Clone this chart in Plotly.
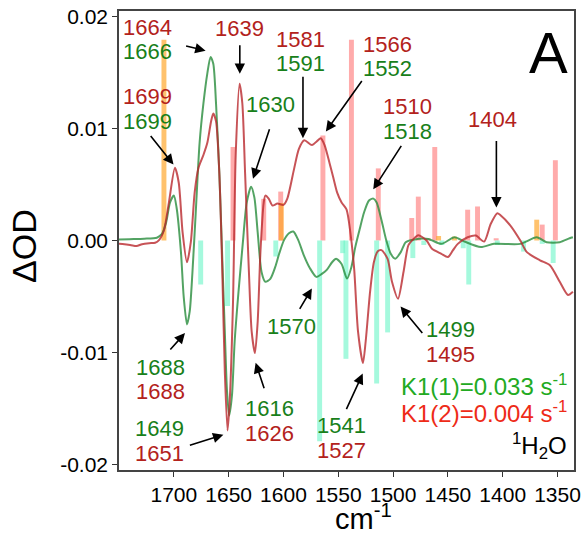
import plotly.graph_objects as go

# ---- difference spectra (wavenumber in cm-1, ΔOD) ----
red_wn = [1750, 1745, 1739, 1734, 1729, 1722.5, 1717, 1713.5, 1709, 1704.5, 1699, 1695.5, 1692, 1688,
          1684.5, 1681, 1677.5, 1673, 1669.5, 1666, 1664, 1661.5, 1658.5, 1656, 1653.5, 1651, 1649,
          1646, 1643.5, 1640, 1637.5, 1635, 1631.5, 1629, 1626, 1623.5, 1621, 1618, 1616.5, 1613.5,
          1610, 1605.5, 1600, 1596.5, 1590.5, 1586, 1581, 1574, 1569.5, 1566, 1562.5, 1558, 1554.5,
          1551, 1547, 1542.5, 1539, 1535.5, 1532, 1527.5, 1525, 1521, 1517.5, 1514, 1510.5, 1505,
          1501, 1495.5, 1490.5, 1486, 1481.5, 1477, 1469.5, 1464.5, 1456, 1450, 1445.5, 1441, 1432,
          1424.5, 1417, 1411, 1405, 1402, 1393, 1384, 1378, 1366, 1357, 1348, 1340.5, 1336]
red_dod = [-0.00028, -0.00033, -0.00042, -0.00050, -0.00033, -0.00024, -0.00020, 0.00003, 0.00091,
           0.00339, 0.00649, 0.00516, 0.00073, -0.00195, -0.00015, 0.00427, 0.00649, 0.00764, 0.00870,
           0.01065, 0.01135, 0.01065, 0.00604, -0.00192, -0.01166, -0.01697, -0.01431, -0.00546,
           0.00781, 0.01400, 0.01224, 0.00604, -0.00281, -0.00812, -0.01006, -0.00723, -0.00104,
           0.00339, 0.00401, 0.00374, 0.00312, 0.00330, 0.00318, 0.00374, 0.00631, 0.00817, 0.00896,
           0.00852, 0.00887, 0.00914, 0.00852, 0.00693, 0.00560, 0.00427, 0.00339, 0.00277, 0.00073,
           -0.00254, -0.00812, -0.01095, -0.00900, -0.00458, -0.00192, -0.00095, -0.00086, -0.00165,
           -0.00369, -0.00520, -0.00281, -0.00042, 0.00012, 0.00047, 0.00000, -0.00074, -0.00119,
           -0.00148, -0.00089, -0.00030, 0.00029, 0.00044, -0.00010, 0.00147, 0.00244, 0.00225,
           0.00133, 0.00000, -0.00104, -0.00177, -0.00221, -0.00369, -0.00487, -0.00458]

green_wn = [1750, 1740.5, 1727, 1715.5, 1711, 1707, 1703.5, 1700, 1697.5, 1693.5, 1691, 1688, 1685.5,
            1683, 1680, 1676.5, 1673, 1669.5, 1666.5, 1664, 1661.5, 1658.5, 1656, 1653.5, 1651.5,
            1649.5, 1647, 1644.5, 1641, 1637, 1633.5, 1629.5, 1626.5, 1623.5, 1620, 1616.5, 1612,
            1607.5, 1604, 1599.5, 1595, 1591, 1586.5, 1581.5, 1576, 1570, 1565, 1560.5, 1555.5, 1552,
            1547, 1542, 1538, 1534.5, 1530.5, 1526.5, 1522, 1518, 1515, 1510.5, 1506.5, 1502, 1498,
            1493, 1488.5, 1481.5, 1468, 1456, 1444, 1435, 1420, 1408, 1384, 1369, 1360, 1348, 1339, 1336]
green_dod = [0.00009, 0.00012, 0.00016, 0.00025, 0.00056, 0.00162, 0.00339, 0.00401, 0.00295, -0.00104,
             -0.00502, -0.00750, -0.00634, -0.00281, 0.00251, 0.00870, 0.01224, 0.01489, 0.01640,
             0.01578, 0.01224, 0.00604, -0.00104, -0.00812, -0.01343, -0.01564, -0.01387, -0.00900,
             -0.00458, -0.00015, 0.00339, 0.00481, 0.00383, 0.00073, -0.00281, -0.00369, -0.00342,
             -0.00236, -0.00121, 0.00003, 0.00065, 0.00080, 0.00003, -0.00130, -0.00245, -0.00325,
             -0.00298, -0.00263, -0.00192, -0.00163, -0.00210, -0.00340, -0.00236, -0.00059, 0.00100,
             0.00250, 0.00357, 0.00374, 0.00339, 0.00179, 0.00012, -0.00121, -0.00163, -0.00104,
             -0.00015, 0.00007, 0.00014, -0.00030, 0.00029, -0.00009, -0.00059, -0.00030, -0.00030,
             0.00029, -0.00015, -0.00015, 0.00020, 0.00029]

# ---- stick spectra ----
pink_wn = [1646, 1618, 1602.5, 1564, 1538, 1513.5, 1483, 1477, 1468, 1462, 1432, 1423, 1406, 1364, 1352]
pink_dod = [0.00835, 0.00372, 0.00437, 0.00938, 0.01794, 0.00644, 0.00201, 0.00392, 0.00020, 0.00835,
            0.00275, 0.00304, 0.00020, 0.00142, 0.00717]
aqua_wn = [1675.5, 1651, 1607, 1567, 1546, 1543, 1515, 1505, 1482, 1472, 1455.5, 1436, 1431, 1405,
           1381, 1364, 1354]
aqua_dod = [-0.00393, -0.00585, -0.00143, -0.01794, -0.00113, -0.01057, -0.01278, -0.00821, -0.00157,
            -0.00040, -0.00040, -0.00069, -0.00393, -0.00040, -0.00099, -0.00030, -0.00201]
orange_wn = [1709, 1602, 1458.5, 1444, 1369]
orange_dod = [0.01794, 0.00334, 0.00040, 0.00035, 0.00186]

# ---- peak annotations: text, colour, label position ----
RED = "#b3221c"
GREEN = "#18801a"
peak_texts = ["1664", "1666", "1699", "1699", "1639", "1630", "1581", "1591", "1566", "1552",
              "1510", "1518", "1404", "1688", "1688", "1649", "1651", "1616", "1626", "1570",
              "1541", "1527", "1499", "1495"]
peak_colors = [RED, GREEN, RED, GREEN, RED, GREEN, RED, GREEN, RED, GREEN, RED, GREEN, RED,
               GREEN, RED, GREEN, RED, GREEN, RED, GREEN, GREEN, RED, GREEN, RED]
peak_pos = [(1724.3, 0.01905), (1724.3, 0.01684), (1724.3, 0.01286), (1724.3, 0.01065),
            (1639.8, 0.01897), (1611.9, 0.01215), (1584.9, 0.01799), (1584.9, 0.01578),
            (1504.9, 0.01755), (1504.9, 0.01534), (1486.9, 0.01197), (1486.9, 0.00976),
            (1409.6, 0.01082), (1711.7, -0.01130), (1711.7, -0.01351), (1713.5, -0.01679),
            (1713.5, -0.01900), (1612.8, -0.01502), (1612.8, -0.01723), (1593.0, -0.00767),
            (1547.2, -0.01652), (1547.2, -0.01874), (1447.4, -0.00794), (1447.4, -0.01015)]

arrows = [  # head (wn, ΔOD), tail offset (dx, dy) px
    ((1671.0, 0.01696), (-21, -5)),
    ((1639.8, 0.01489), (0, -30)),
    ((1700.3, 0.00678), (-24, -30)),
    ((1627.8, 0.00551), (17, -51)),
    ((1689.8, -0.00827), (-16, 18)),
    ((1625.4, -0.01092), (9, 27)),
    ((1654.8, -0.01735), (-35, 11)),
    ((1582.2, 0.00914), (0, -63)),
    ((1561.3, 0.00974), (37, -52)),
    ((1518.1, 0.00457), (29, -45)),
    ((1574.1, -0.00428), (-13, 22)),
    ((1527.7, -0.01189), (-17, 37)),
    ((1493.2, -0.00590), (23, 28)),
    ((1405.8, 0.00295), (0, -68)),
]

x_ticks = [1700, 1650, 1600, 1550, 1500, 1450, 1400, 1350]
y_ticks = [0.02, 0.01, 0.0, -0.01, -0.02]
y_tick_text = ["0.02", "0.01", "0.00", "-0.01", "-0.02"]

FONT = "Liberation Sans, Arial, Helvetica, sans-serif"

fig = go.Figure()
fig.add_trace(go.Bar(x=pink_wn, y=pink_dod, width=4.5,
                     marker=dict(color="rgba(255,120,120,0.62)", line_width=0)))
fig.add_trace(go.Bar(x=aqua_wn, y=aqua_dod, width=4.5,
                     marker=dict(color="rgba(110,245,200,0.62)", line_width=0)))
fig.add_trace(go.Bar(x=orange_wn, y=orange_dod, width=4.5,
                     marker=dict(color="rgba(255,165,40,0.68)", line_width=0)))
fig.add_trace(go.Scatter(x=green_wn, y=green_dod, mode="lines",
                         line=dict(color="rgba(40,140,60,0.8)", width=2, shape="spline", smoothing=0.7)))
fig.add_trace(go.Scatter(x=red_wn, y=red_dod, mode="lines",
                         line=dict(color="rgba(185,40,45,0.8)", width=2, shape="spline", smoothing=0.7)))

ann = []
for txt, col, (px, py) in zip(peak_texts, peak_colors, peak_pos):
    ann.append(dict(x=px, y=py, text=txt, showarrow=False, xanchor="center", yanchor="middle",
                    font=dict(family=FONT, size=22, color=col)))
for (hx, hy), (dx, dy) in arrows:
    ann.append(dict(x=hx, y=hy, ax=dx, ay=dy, text="", showarrow=True, arrowhead=2,
                    arrowsize=1.3, arrowwidth=1.6, arrowcolor="black", standoff=0))

ann += [
    dict(x=1340, y=-0.0129, text="K1(1)=0.033 s<sup>-1</sup>", showarrow=False, xanchor="right",
         yanchor="middle", font=dict(family=FONT, size=24, color="#22aa22")),
    dict(x=1340, y=-0.01528, text="K1(2)=0.004 s<sup>-1</sup>", showarrow=False, xanchor="right",
         yanchor="middle", font=dict(family=FONT, size=24, color="#ee2b18")),
    dict(x=1340, y=-0.01838, text="<sup>1</sup>H<sub>2</sub>O", showarrow=False, xanchor="right",
         yanchor="middle", font=dict(family=FONT, size=24, color="black")),
    dict(x=1358, y=0.01675, text="A", showarrow=False, xanchor="center", yanchor="middle",
         font=dict(family=FONT, size=58, color="black")),
    dict(x=0.538, y=-0.102, xref="paper", yref="paper", text="cm<sup>-1</sup>", showarrow=False,
         xanchor="center", yanchor="middle", font=dict(family=FONT, size=29, color="black")),
    dict(x=-0.209, y=0.488, xref="paper", yref="paper", text="ΔOD", textangle=-90, showarrow=False,
         xanchor="center", yanchor="middle", font=dict(family=FONT, size=34, color="black")),
]

fig.update_layout(
    width=586, height=537,
    margin=dict(l=119, r=5, t=7, b=67),
    paper_bgcolor="white", plot_bgcolor="white",
    barmode="overlay", showlegend=False,
    annotations=ann,
    xaxis=dict(range=[1750, 1335], tickvals=x_ticks, ticks="outside", ticklen=5, tickwidth=1.2,
               tickcolor="#333", showgrid=False, zeroline=False, showline=True, mirror=True,
               linecolor="#444", linewidth=1.5,
               tickfont=dict(family=FONT, size=21, color="black")),
    yaxis=dict(range=[-0.0205, 0.0205], tickvals=y_ticks, ticktext=y_tick_text, ticks="outside",
               ticklen=5, tickwidth=1.2, tickcolor="#333", showgrid=False, zeroline=False,
               showline=True, mirror=True, linecolor="#444", linewidth=1.5,
               tickfont=dict(family=FONT, size=21, color="black")),
)

fig.write_html("out.html")
